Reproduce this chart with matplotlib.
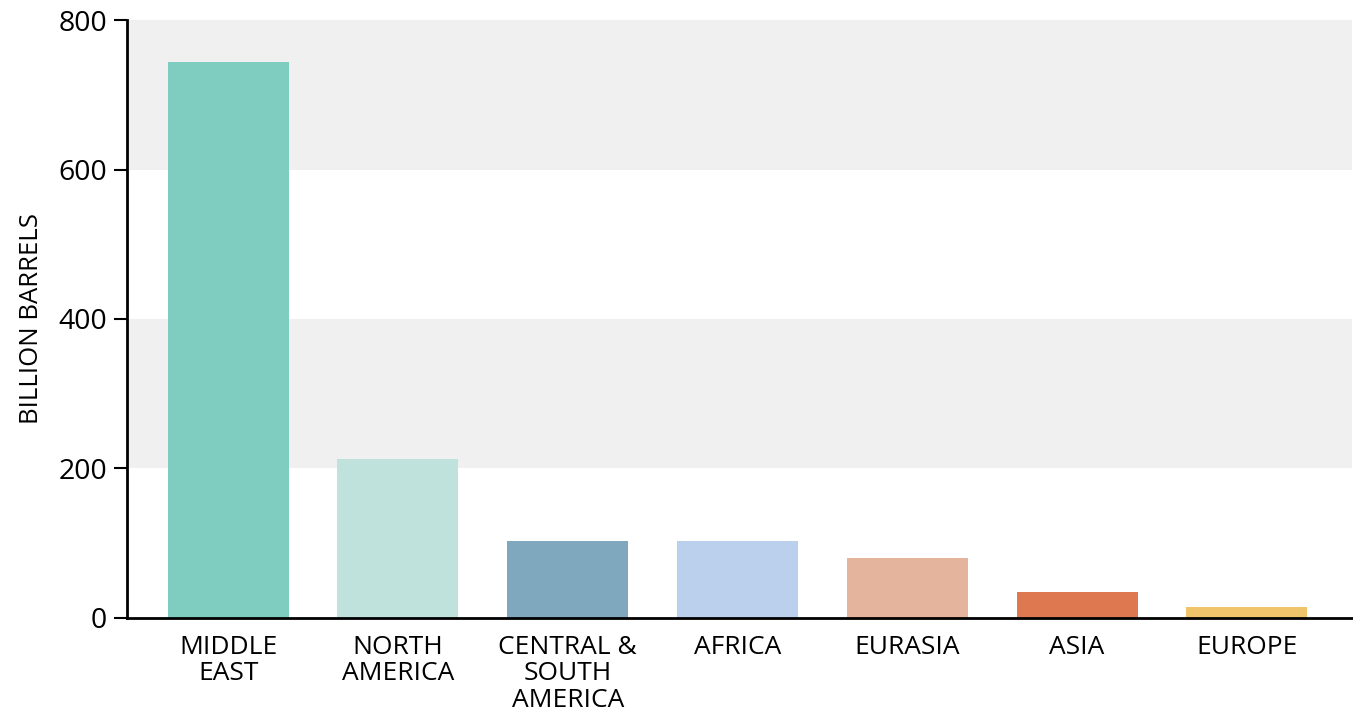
import matplotlib.pyplot as plt

regions = ['MIDDLE\nEAST', 'NORTH\nAMERICA', 'CENTRAL &\nSOUTH\nAMERICA', 'AFRICA',
           'EURASIA', 'ASIA', 'EUROPE']
reserves = [744, 213, 103, 103, 80, 35, 15]
colors = ['#7ecdc0', '#bfe3dc', '#7fa7bd', '#bad0ec', '#e4b59c', '#de7850', '#f0c46a']
y_ticks = [0, 200, 400, 600, 800]

plt.rcParams['font.family'] = ['Open Sans', 'DejaVu Sans']

fig = plt.figure(figsize=(13.53, 7.15), dpi=100)
ax = fig.add_axes([0.0939, 0.1357, 0.9055, 0.8363])

# alternating grey bands
for lo in (200, 600):
    ax.axhspan(lo, lo + 200, color='#f0f0f0', lw=0, zorder=0)

x = range(len(regions))
ax.bar(x, reserves, width=0.713, color=colors, zorder=2)

ax.set_xlim(-0.595, 6.62)
ax.set_ylim(0, 800)
ax.set_yticks(y_ticks)
ax.set_xticks(list(x))
ax.set_xticklabels(regions, fontsize=19, linespacing=1.08, va='top')
ax.tick_params(axis='x', length=0, pad=12)
ax.tick_params(axis='y', length=9.5, width=1.5, labelsize=20.5, pad=5)
ax.set_ylabel('BILLION BARRELS', fontsize=18.5, labelpad=10)

for s in ('top', 'right'):
    ax.spines[s].set_visible(False)
for s in ('left', 'bottom'):
    ax.spines[s].set_linewidth(2)

fig.savefig('out.png', dpi=100)
